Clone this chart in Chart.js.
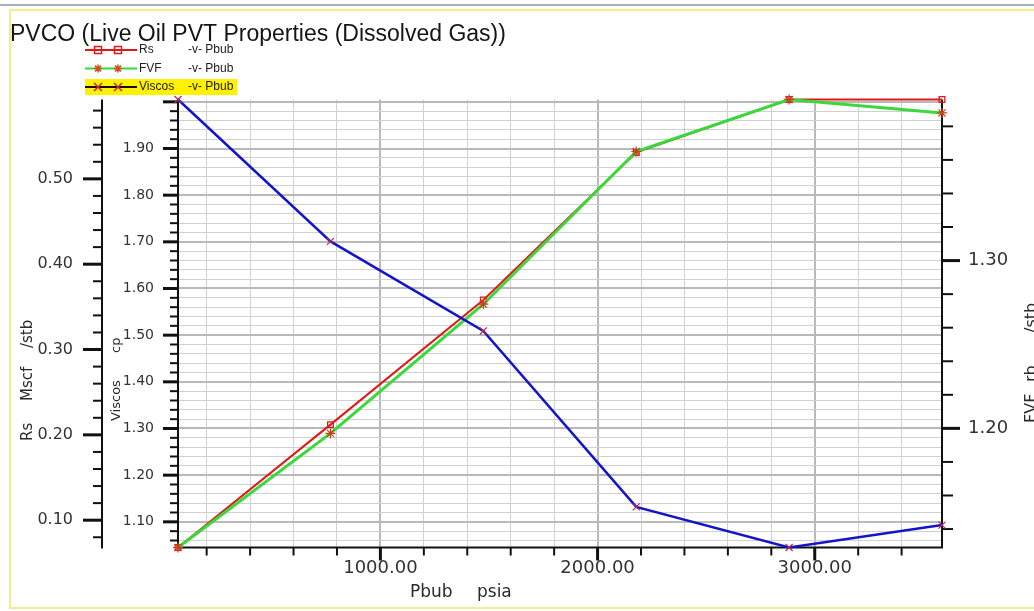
<!DOCTYPE html>
<html>
<head>
<meta charset="utf-8">
<title>PVCO</title>
<script src="https://cdn.jsdelivr.net/npm/chart.js@4.4.1/dist/chart.umd.min.js"></script>
<style>
  html, body { margin: 0; padding: 0; background: #ffffff; }
  #wrap { position: relative; width: 1034px; height: 611px; }
</style>
</head>
<body>
<div id="wrap"><canvas id="pvco" width="1034" height="611"></canvas></div>
<script>
// Live oil PVT table: bubble-point pressure against Rs, FVF and viscosity
const PBUB   = [68, 770, 1474, 2178, 2882, 3586];          // psia
const RS     = [0.068, 0.212, 0.358, 0.531, 0.593, 0.593]; // Mscf/stb
const FVF    = [1.129, 1.197, 1.274, 1.365, 1.396, 1.388]; // rb/stb
const VISCOS = [2.005, 1.701, 1.509, 1.132, 1.045, 1.093]; // cp

const SERIES_NAMES = ['Rs', 'FVF', 'Viscos'];
const VERSUS = '-v- Pbub';
const TITLE = 'PVCO (Live Oil PVT Properties (Dissolved Gas))';
const X_TITLE = ['Pbub', 'psia'];
const RS_TITLE = ['Rs', 'Mscf', '/stb'];
const VISC_TITLE = ['Viscos', 'cp'];
const FVF_TITLE = ['FVF', 'rb', '/stb'];

const X_STEP = 200, X_MAJOR = 1000;
const Y_STEP = 0.02, Y_MAJOR = 0.1;

const TICK_FONT = 'DejaVu Sans';
const TEXT_FONT = 'Liberation Sans';
const RED = '#e01818', GREEN = '#3ad83a', BLUE = '#1414c8';

const isMajor = (v, step) => Math.abs(v / step - Math.round(v / step)) < 1e-6;

// evenly stepped ticks strictly inside the axis range
function stepTicks(step) {
  return function (axis) {
    const out = [];
    const k0 = Math.ceil(axis.min / step - 1e-9);
    const k1 = Math.floor(axis.max / step + 1e-9);
    for (let k = k0; k <= k1; k++) {
      const v = Math.round(k * step * 1e6) / 1e6;
      if (v > axis.min && v < axis.max) out.push({ value: v });
    }
    axis.ticks = out;
  };
}

// label only the major ticks, and not the ones crowding an axis end
function majorLabels(major, digits) {
  return function (value) {
    if (!isMajor(value, major)) return '';
    if (this.max - value < major / 5 || value - this.min < major / 5) return '';
    return value.toFixed(digits);
  };
}

function gridColor(step) {
  return c => (c.tick && isMajor(c.tick.value, step)) ? '#b9b9b9' : '#d0d0d0';
}
function gridWidth(step) {
  return c => (c.tick && isMajor(c.tick.value, step)) ? 2 : 1;
}

function drawTickMarks(ctx, scale, side, step, majorLen, minorLen) {
  ctx.strokeStyle = '#111';
  scale.ticks.forEach(t => {
    const p = scale.getPixelForValue(t.value);
    const major = isMajor(t.value, step);
    const len = major ? majorLen : minorLen;
    ctx.lineWidth = major ? 3 : 2;
    ctx.beginPath();
    if (side === 'left') { ctx.moveTo(scale.right - len, p); ctx.lineTo(scale.right, p); }
    else if (side === 'right') { ctx.moveTo(scale.left, p); ctx.lineTo(scale.left + len, p); }
    else { ctx.moveTo(p, scale.top); ctx.lineTo(p, scale.top + len); }
    ctx.stroke();
  });
}

function vertText(ctx, parts, offsets, x, y, font) {
  ctx.save();
  ctx.translate(x, y);
  ctx.rotate(-Math.PI / 2);
  ctx.font = font;
  ctx.fillStyle = '#2a2a2a';
  ctx.textAlign = 'left';
  ctx.textBaseline = 'alphabetic';
  parts.forEach((p, i) => ctx.fillText(p, offsets[i], 0));
  ctx.restore();
}

function markSquare(ctx, x, y, color) {
  ctx.strokeStyle = color; ctx.lineWidth = 1.5;
  ctx.strokeRect(x - 3.5, y - 3.5, 7, 7);
  ctx.beginPath(); ctx.moveTo(x - 3.5, y); ctx.lineTo(x + 3.5, y); ctx.stroke();
}
function markStar(ctx, x, y, color) {
  ctx.strokeStyle = color; ctx.lineWidth = 1.5;
  ctx.beginPath();
  ctx.moveTo(x - 4, y); ctx.lineTo(x + 4, y);
  ctx.moveTo(x, y - 4); ctx.lineTo(x, y + 4);
  ctx.moveTo(x - 3, y - 3); ctx.lineTo(x + 3, y + 3);
  ctx.moveTo(x - 3, y + 3); ctx.lineTo(x + 3, y - 3);
  ctx.stroke();
}
function markCross(ctx, x, y, color) {
  ctx.strokeStyle = color; ctx.lineWidth = 1.5;
  ctx.beginPath();
  ctx.moveTo(x - 4, y - 4); ctx.lineTo(x + 4, y + 4);
  ctx.moveTo(x - 4, y + 4); ctx.lineTo(x + 4, y - 4);
  ctx.stroke();
}

const decor = {
  id: 'decor',
  beforeDraw(chart) {
    const ctx = chart.ctx;
    ctx.save();
    ctx.fillStyle = '#ffffff';
    ctx.fillRect(0, 0, chart.width, chart.height);
    // window frame
    ctx.fillStyle = '#a9adc2';
    ctx.fillRect(0, 4, chart.width, 2);
    ctx.strokeStyle = '#f2ee8c';
    ctx.lineWidth = 2;
    ctx.beginPath();
    ctx.moveTo(chart.width, 10); ctx.lineTo(10, 10); ctx.lineTo(10, 608); ctx.lineTo(chart.width, 608);
    ctx.stroke();
    ctx.restore();
  },
  beforeDatasetsDraw(chart) {
    const ctx = chart.ctx, a = chart.chartArea, s = chart.scales;
    ctx.save();
    ctx.strokeStyle = '#111';
    ctx.lineWidth = 2;
    ctx.beginPath();
    ctx.moveTo(s.yRs.right, a.top); ctx.lineTo(s.yRs.right, a.bottom + 1);
    ctx.moveTo(s.yVisc.right, a.top); ctx.lineTo(s.yVisc.right, a.bottom + 1);
    ctx.moveTo(s.yFvf.left, a.top); ctx.lineTo(s.yFvf.left, a.bottom + 1);
    ctx.moveTo(a.left, a.bottom); ctx.lineTo(a.right, a.bottom);
    ctx.stroke();
    drawTickMarks(ctx, s.yRs, 'left', Y_MAJOR, 19, 9);
    drawTickMarks(ctx, s.yVisc, 'left', Y_MAJOR, 15, 8);
    drawTickMarks(ctx, s.yFvf, 'right', Y_MAJOR, 18, 11);
    drawTickMarks(ctx, s.x, 'bottom', X_MAJOR, 13, 8);
    ctx.restore();
  },
  afterDraw(chart) {
    const ctx = chart.ctx;
    ctx.save();
    // title
    ctx.font = '23px "' + TEXT_FONT + '"';
    ctx.fillStyle = '#151515';
    ctx.textAlign = 'left';
    ctx.textBaseline = 'alphabetic';
    ctx.fillText(TITLE, 10, 41);

    // legend
    const rows = [50, 68.5, 87];
    ctx.fillStyle = '#fff200';
    ctx.fillRect(85, 79, 152, 16);
    const lineCols = [RED, GREEN, '#111'];
    const markers = [
      (x, y) => markSquare(ctx, x, y, RED),
      (x, y) => markStar(ctx, x, y, '#d0501a'),
      (x, y) => markCross(ctx, x, y, '#d02040')
    ];
    rows.forEach((y, i) => {
      ctx.strokeStyle = lineCols[i];
      ctx.lineWidth = 2;
      ctx.beginPath(); ctx.moveTo(85, y); ctx.lineTo(137, y); ctx.stroke();
      markers[i](98, y);
      markers[i](118, y);
      ctx.font = '12px "' + TEXT_FONT + '"';
      ctx.fillStyle = '#222';
      ctx.textBaseline = 'middle';
      ctx.fillText(SERIES_NAMES[i], 139, y);
      ctx.fillText(VERSUS, 188, y);
    });

    // axis titles
    ctx.font = '17px "' + TICK_FONT + '"';
    ctx.fillStyle = '#2a2a2a';
    ctx.textBaseline = 'alphabetic';
    ctx.fillText(X_TITLE[0], 410, 597);
    ctx.fillText(X_TITLE[1], 477, 597);
    vertText(ctx, RS_TITLE, [0, 40, 93], 32, 441, '15px "' + TICK_FONT + '"');
    vertText(ctx, VISC_TITLE, [0, 68], 120, 421, '13px "' + TICK_FONT + '"');
    vertText(ctx, FVF_TITLE, [0, 41, 90], 1036, 423, '16px "' + TICK_FONT + '"');
    ctx.restore();
  }
};

const xy = ys => PBUB.map((x, i) => ({ x: x, y: ys[i] }));

new Chart(document.getElementById('pvco'), {
  type: 'line',
  data: {
    datasets: [
      {
        label: SERIES_NAMES[2], data: xy(VISCOS), yAxisID: 'yVisc', order: 0,
        borderColor: BLUE, borderWidth: 2.5, tension: 0, clip: false,
        pointStyle: 'crossRot', pointRadius: 5, pointBorderColor: '#b02a5a',
        pointBorderWidth: 1.2, pointBackgroundColor: 'rgba(0,0,0,0)'
      },
      {
        label: SERIES_NAMES[1], data: xy(FVF), yAxisID: 'yFvf', order: 1,
        borderColor: GREEN, borderWidth: 3, tension: 0, clip: false,
        pointStyle: 'star', pointRadius: 5, pointBorderColor: '#c8401a',
        pointBorderWidth: 1.2, pointBackgroundColor: 'rgba(0,0,0,0)'
      },
      {
        label: SERIES_NAMES[0], data: xy(RS), yAxisID: 'yRs', order: 2,
        borderColor: RED, borderWidth: 2, tension: 0, clip: false,
        pointStyle: 'rect', pointRadius: 4, pointBorderColor: RED,
        pointBorderWidth: 1.3, pointBackgroundColor: 'rgba(0,0,0,0)'
      }
    ]
  },
  options: {
    responsive: false,
    animation: false,
    devicePixelRatio: 1,
    events: [],
    layout: { padding: { left: 14, right: 0, top: 99.5, bottom: 0 } },
    plugins: { legend: { display: false }, title: { display: false }, tooltip: { enabled: false } },
    scales: {
      x: {
        type: 'linear', position: 'bottom', bounds: 'data',
        min: Math.min(...PBUB), max: Math.max(...PBUB),
        afterBuildTicks: stepTicks(X_STEP),
        afterFit: s => { s.height = 63.5; },
        grid: { drawTicks: false, color: gridColor(X_MAJOR), lineWidth: gridWidth(X_MAJOR) },
        border: { display: false },
        ticks: {
          autoSkip: false, maxRotation: 0, minRotation: 0, padding: 10,
          font: { family: TICK_FONT, size: 18 }, color: '#333',
          callback: majorLabels(X_MAJOR, 2)
        }
      },
      yVisc: {
        type: 'linear', position: 'left', weight: 0, bounds: 'data',
        min: Math.min(...VISCOS), max: Math.max(...VISCOS),
        afterBuildTicks: stepTicks(Y_STEP),
        afterFit: s => { s.width = 76; },
        grid: { drawTicks: false, color: gridColor(Y_MAJOR), lineWidth: gridWidth(Y_MAJOR) },
        border: { display: false },
        ticks: {
          autoSkip: false, padding: 24,
          font: { family: TICK_FONT, size: 14 }, color: '#333',
          callback: majorLabels(Y_MAJOR, 2)
        }
      },
      yRs: {
        type: 'linear', position: 'left', weight: 1, bounds: 'data',
        min: Math.min(...RS), max: Math.max(...RS),
        afterBuildTicks: stepTicks(Y_STEP),
        afterFit: s => { s.width = 88; },
        grid: { drawTicks: false, drawOnChartArea: false },
        border: { display: false },
        ticks: {
          autoSkip: false, padding: 29,
          font: { family: TICK_FONT, size: 16 }, color: '#333',
          callback: majorLabels(Y_MAJOR, 2)
        }
      },
      yFvf: {
        type: 'linear', position: 'right', bounds: 'data',
        min: Math.min(...FVF), max: Math.max(...FVF),
        afterBuildTicks: stepTicks(Y_STEP),
        afterFit: s => { s.width = 92; },
        grid: { drawTicks: false, drawOnChartArea: false },
        border: { display: false },
        ticks: {
          autoSkip: false, padding: 26,
          font: { family: TICK_FONT, size: 18 }, color: '#333',
          callback: majorLabels(Y_MAJOR, 2)
        }
      }
    }
  },
  plugins: [decor]
});
</script>
</body>
</html>
